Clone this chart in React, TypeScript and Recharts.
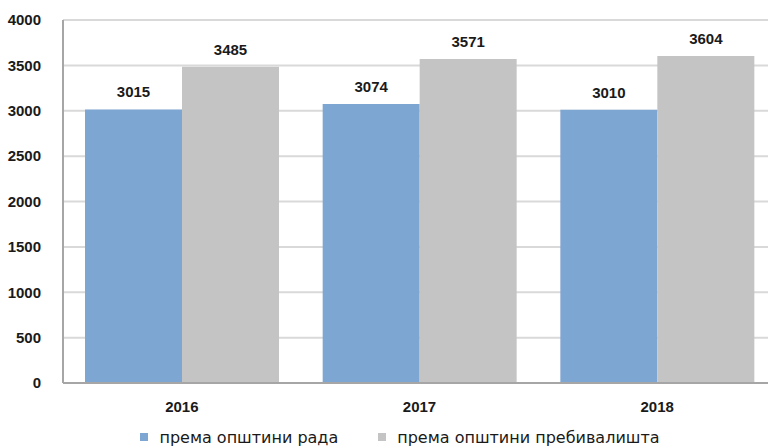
import { BarChart, Bar, XAxis, YAxis, CartesianGrid, Legend, LabelList } from 'recharts';

const years = ['2016', '2017', '2018'];
const byWork = [3015, 3074, 3010];
const byResidence = [3485, 3571, 3604];
const yTicks = [0, 500, 1000, 1500, 2000, 2500, 3000, 3500, 4000];
const seriesNames = ['према општини рада', 'према општини пребивалишта'];
const seriesColors = ['#7ea6d3', '#c4c4c4'];

const data = years.map((year, i) => ({
  year,
  work: byWork[i],
  residence: byResidence[i],
}));

const font = '"Liberation Sans", Arial, sans-serif';
const tickStyle = { fill: '#1a1a1a', fontSize: 15, fontWeight: 700, fontFamily: font };

function ChartLegend() {
  return (
    <div
      style={{
        display: 'flex',
        justifyContent: 'center',
        alignItems: 'center',
        height: 18,
        paddingLeft: 24,
        fontFamily: '"DejaVu Sans", Verdana, sans-serif',
        fontSize: 16,
        color: '#1a1a1a',
      }}
    >
      {seriesNames.map((name, i) => (
        <div key={name} style={{ display: 'flex', alignItems: 'center', marginRight: i === 0 ? 40 : 0 }}>
          <span style={{ width: 8, height: 8, background: seriesColors[i], marginRight: 11, display: 'inline-block' }} />
          <span>{name}</span>
        </div>
      ))}
    </div>
  );
}

export default function App() {
  return (
    <div style={{ position: 'absolute', left: 0, top: 0, width: 768, height: 448, overflow: 'hidden', background: '#fff' }}>
      <BarChart
        width={776}
        height={448}
        data={data}
        margin={{ top: 20, right: 0, left: 0, bottom: 2 }}
        barCategoryGap={22}
        barGap={0}
      >
        <CartesianGrid vertical={false} stroke="#d9d9d9" strokeWidth={2} />
        <XAxis
          dataKey="year"
          tickLine={false}
          axisLine={{ stroke: '#a6a6a6', strokeWidth: 2 }}
          tick={tickStyle}
          tickMargin={12}
          height={45}
        />
        <YAxis
          domain={[0, 4000]}
          ticks={yTicks}
          width={63}
          tickLine={false}
          axisLine={{ stroke: '#a6a6a6', strokeWidth: 2 }}
          tick={tickStyle}
          tickMargin={16}
        />
        <Legend verticalAlign="bottom" content={() => <ChartLegend />} />
        <Bar dataKey="work" name={seriesNames[0]} fill={seriesColors[0]} isAnimationActive={false}>
          <LabelList dataKey="work" position="top" offset={12} style={tickStyle} />
        </Bar>
        <Bar dataKey="residence" name={seriesNames[1]} fill={seriesColors[1]} isAnimationActive={false}>
          <LabelList dataKey="residence" position="top" offset={12} style={tickStyle} />
        </Bar>
      </BarChart>
    </div>
  );
}
